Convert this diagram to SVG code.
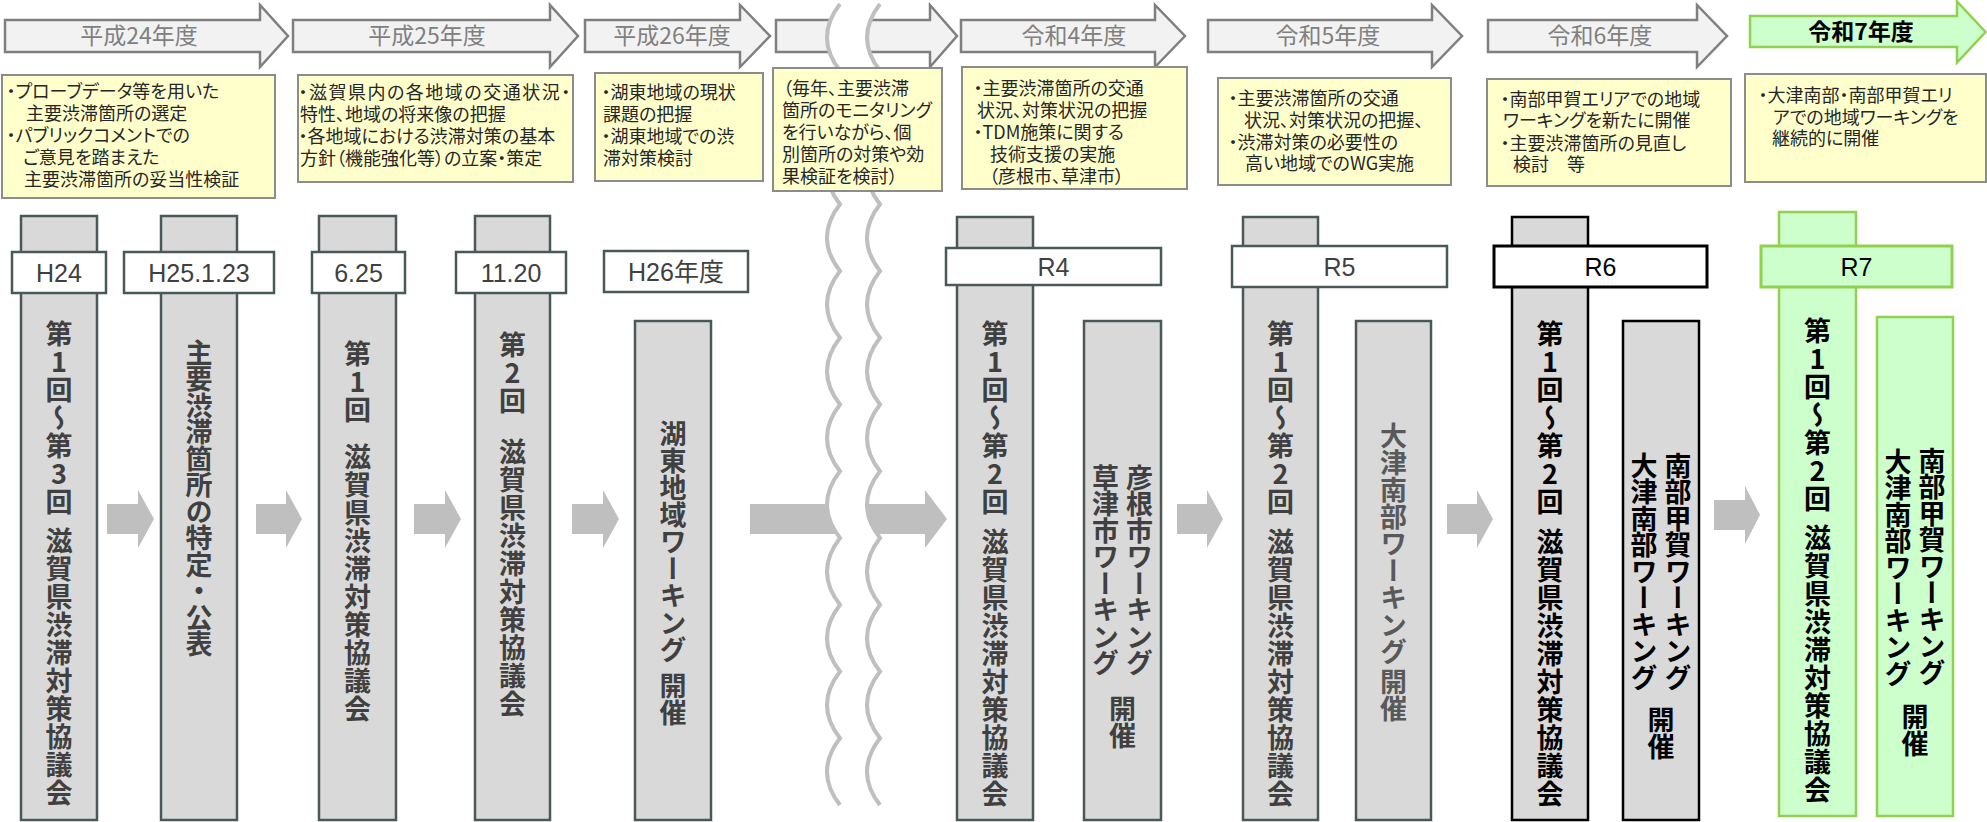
<svg xmlns="http://www.w3.org/2000/svg" width="1987" height="822" viewBox="0 0 1987 822">
<style>
.hdr{fill:#F2F2F2;stroke:#7F7F7F;stroke-width:2.5}
.hdrG{fill:#CCFFCC;stroke:#92D050;stroke-width:2.5}
.ht{font-family:"Noto Sans CJK JP",sans-serif;font-size:23px;fill:#808080;text-anchor:middle}
.htG{font-family:"Noto Sans CJK JP",sans-serif;font-size:23px;font-weight:bold;fill:#000;text-anchor:middle}
.box{fill:#FFFFCC;stroke:#8C8C8C;stroke-width:2}
.bt{font-family:"Noto Sans CJK JP",sans-serif;font-size:18px;fill:#262626;font-feature-settings:"palt"}
.pil{fill:#D9D9D9;stroke:#4A5858;stroke-width:2.5}
.lab{fill:#FFFFFF;stroke:#4A5858;stroke-width:2.5}
.pilK{fill:#D9D9D9;stroke:#000;stroke-width:2.5}
.labK{fill:#FFFFFF;stroke:#000;stroke-width:3}
.pilG{fill:#CCFFCC;stroke:#92D050;stroke-width:2.5}
.labG{fill:#CCFFCC;stroke:#92D050;stroke-width:3}
.lt{font-family:"Liberation Sans","Noto Sans CJK JP",sans-serif;font-size:25px;fill:#404040;text-anchor:middle}
.ltK{font-family:"Liberation Sans",sans-serif;font-size:25px;fill:#000;text-anchor:middle}
.vt{font-family:"Noto Sans CJK JP",sans-serif;font-size:27px;font-weight:bold;fill:#404040;writing-mode:vertical-rl;text-orientation:upright;letter-spacing:1px}
.vtK{fill:#000}
.vtL{fill:#595959}
.n5{letter-spacing:-0.5px}
.n0{letter-spacing:0px}
.conn{fill:#BFBFBF}
.wave{fill:none;stroke:#BFBFBF;stroke-width:4}
</style>

<!-- header arrows -->
<g id="hdr-h24"><polygon class="hdr" points="5,20 260,20 260,5 288,36 260,67 260,52 5,52"/><text class="ht" x="139" y="44">平成24年度</text></g>
<g id="hdr-h25"><polygon class="hdr" points="293,20 550,20 550,5 578,36 550,67 550,52 293,52"/><text class="ht" x="427" y="44">平成25年度</text></g>
<g id="hdr-h26"><polygon class="hdr" points="585,20 740,20 740,5 770,36 740,67 740,52 585,52"/><text class="ht" x="672" y="44">平成26年度</text></g>
<g id="hdr-gap"><polygon class="hdr" points="776,20 930,20 930,5 957,36 930,67 930,52 776,52"/></g>
<g id="hdr-r4"><polygon class="hdr" points="961,20 1155,20 1155,5 1185,36 1155,67 1155,52 961,52"/><text class="ht" x="1074" y="44">令和4年度</text></g>
<g id="hdr-r5"><polygon class="hdr" points="1208,20 1432,20 1432,5 1462,36 1432,67 1432,52 1208,52"/><text class="ht" x="1328" y="44">令和5年度</text></g>
<g id="hdr-r6"><polygon class="hdr" points="1488,20 1697,20 1697,5 1727,36 1697,67 1697,52 1488,52"/><text class="ht" x="1600" y="44">令和6年度</text></g>
<g id="hdr-r7"><polygon class="hdrG" points="1750,16 1957,16 1957,1.5 1985.5,32 1957,62.5 1957,47 1750,47"/><text class="htG" x="1861" y="40">令和7年度</text></g>

<!-- description boxes -->
<g id="box-h24"><rect class="box" x="2" y="75" width="273" height="123"/>
<text class="bt"><tspan x="6.5" y="97.5">・プローブデータ等を用いた</tspan><tspan x="26" y="119.5">主要渋滞箇所の選定</tspan><tspan x="6.5" y="141.5">・パブリックコメントでの</tspan><tspan x="23" y="163.5">ご意見を踏まえた</tspan><tspan x="24" y="185.5">主要渋滞箇所の妥当性検証</tspan></text></g>
<g id="box-h25"><rect class="box" x="298" y="75" width="275" height="107"/>
<text class="bt"><tspan x="298.5" y="98.5" letter-spacing="1.5">・滋賀県内の各地域の交通状況・</tspan><tspan x="300" y="120.5">特性、地域の将来像の把握</tspan><tspan x="298.5" y="142.5">・各地域における渋滞対策の基本</tspan><tspan x="300" y="164.5">方針（機能強化等）の立案・策定</tspan></text></g>
<g id="box-h26"><rect class="box" x="595" y="73" width="168" height="108"/>
<text class="bt"><tspan x="601.5" y="99">・湖東地域の現状</tspan><tspan x="603" y="121">課題の把握</tspan><tspan x="601.5" y="143">・湖東地域での渋</tspan><tspan x="603" y="165">滞対策検討</tspan></text></g>
<g id="box-r4"><rect class="box" x="962" y="67" width="225" height="122"/>
<text class="bt"><tspan x="973.5" y="94.5">・主要渋滞箇所の交通</tspan><tspan x="977" y="116.5">状況、対策状況の把握</tspan><tspan x="973.5" y="138.5">・TDM施策に関する</tspan><tspan x="990" y="160.5">技術支援の実施</tspan><tspan x="989" y="182.5">（彦根市、草津市）</tspan></text></g>
<g id="box-r5"><rect class="box" x="1218" y="78" width="233" height="107"/>
<text class="bt"><tspan x="1228.5" y="104.5">・主要渋滞箇所の交通</tspan><tspan x="1244" y="126.5">状況、対策状況の把握、</tspan><tspan x="1228.5" y="148.5">・渋滞対策の必要性の</tspan><tspan x="1245" y="169.5">高い地域でのWG実施</tspan></text></g>
<g id="box-r6"><rect class="box" x="1487" y="79" width="244" height="107"/>
<text class="bt"><tspan x="1500.5" y="105.5">・南部甲賀エリアでの地域</tspan><tspan x="1503" y="127">ワーキングを新たに開催</tspan><tspan x="1500.5" y="149.5">・主要渋滞箇所の見直し</tspan><tspan x="1513" y="171">検討　等</tspan></text></g>
<g id="box-r7"><rect class="box" x="1745" y="74" width="241" height="108"/>
<text class="bt"><tspan x="1758.5" y="101.5">・大津南部・南部甲賀エリ</tspan><tspan x="1773" y="123.5">アでの地域ワーキングを</tspan><tspan x="1772" y="144.5">継続的に開催</tspan></text></g>

<!-- columns -->
<g id="col-h24">
<rect class="pil" x="21" y="216" width="76" height="604"/>
<rect class="lab" x="12" y="252" width="94" height="41"/>
<text class="lt" x="59" y="281.5">H24</text>
<text class="vt" x="59" y="320">第1回～第3回</text>
<text class="vt" x="59" y="527">滋賀県渋滞対策協議会</text>
</g>
<g id="col-h25">
<rect class="pil" x="161" y="216" width="76" height="604"/>
<rect class="lab" x="124" y="252" width="150" height="41"/>
<text class="lt" x="199" y="281.5">H25.1.23</text>
<text class="vt n5" x="199" y="339">主要渋滞箇所の特定・公表</text>
</g>
<g id="col-625">
<rect class="pil" x="319" y="216" width="77" height="604"/>
<rect class="lab" x="312" y="252" width="93" height="41"/>
<text class="lt" x="358.5" y="281.5">6.25</text>
<text class="vt" x="357.5" y="340">第1回</text>
<text class="vt" x="357.5" y="443">滋賀県渋滞対策協議会</text>
</g>
<g id="col-1120">
<rect class="pil" x="475" y="216" width="75" height="604"/>
<rect class="lab" x="456" y="252" width="110" height="41"/>
<text class="lt" x="511" y="281.5">11.20</text>
<text class="vt" x="512.5" y="331">第2回</text>
<text class="vt" x="512.5" y="438">滋賀県渋滞対策協議会</text>
</g>
<g id="col-h26">
<rect class="lab" x="604" y="251" width="144" height="41"/>
<text class="lt" x="676" y="280.5">H26年度</text>
<rect class="pil" x="635" y="321" width="76" height="499"/>
<text class="vt n0" x="673" y="420">湖東地域ワーキング</text>
<text class="vt n0" x="673" y="672">開催</text>
</g>
<g id="col-r4">
<rect class="pil" x="957" y="217" width="76" height="603"/>
<rect class="lab" x="946" y="248" width="215" height="37"/>
<text class="lt" x="1053.5" y="275.5">R4</text>
<rect class="pil" x="1084" y="321" width="77" height="499"/>
<text class="vt" x="995" y="320">第1回～第2回</text>
<text class="vt" x="995" y="528">滋賀県渋滞対策協議会</text>
<text class="vt n5" x="1139.5" y="464">彦根市ワーキング</text>
<text class="vt n5" x="1105.5" y="464">草津市ワーキング</text>
<text class="vt n0" x="1122.5" y="695">開催</text>
</g>
<g id="col-r5">
<rect class="pil" x="1243" y="217" width="75" height="603"/>
<rect class="lab" x="1232" y="246" width="215" height="41"/>
<text class="lt" x="1339.5" y="275.5">R5</text>
<rect class="pil" x="1356" y="321" width="75" height="499"/>
<text class="vt" x="1280.5" y="320">第1回～第2回</text>
<text class="vt" x="1280.5" y="528">滋賀県渋滞対策協議会</text>
<text class="vt vtL n0" x="1393.5" y="422">大津南部ワーキング</text>
<text class="vt vtL n0" x="1393.5" y="668">開催</text>
</g>
<g id="col-r6">
<rect class="pilK" x="1512" y="217" width="76" height="603"/>
<rect class="labK" x="1494" y="246" width="213" height="41"/>
<text class="ltK" x="1600.5" y="275.5">R6</text>
<rect class="pilK" x="1623" y="321" width="76" height="499"/>
<text class="vt vtK" x="1550" y="320">第1回～第2回</text>
<text class="vt vtK" x="1550" y="528">滋賀県渋滞対策協議会</text>
<text class="vt vtK n5" x="1678" y="452">南部甲賀ワーキング</text>
<text class="vt vtK n5" x="1644" y="452">大津南部ワーキング</text>
<text class="vt vtK n0" x="1661" y="706">開催</text>
</g>
<g id="col-r7">
<rect class="pilG" x="1779" y="212" width="77" height="604"/>
<rect class="labG" x="1761" y="246" width="191" height="41"/>
<text class="ltK" x="1856.5" y="275.5">R7</text>
<rect class="pilG" x="1877" y="317" width="76" height="499"/>
<text class="vt vtK" x="1817.5" y="317">第1回～第2回</text>
<text class="vt vtK" x="1817.5" y="524">滋賀県渋滞対策協議会</text>
<text class="vt vtK n5" x="1932" y="447">南部甲賀ワーキング</text>
<text class="vt vtK n5" x="1898" y="448">大津南部ワーキング</text>
<text class="vt vtK n0" x="1915" y="703">開催</text>
</g>

<!-- connectors -->
<g id="connectors">
<polygon class="conn" points="107,504 138,504 138,490 154,519 138,548 138,534 107,534"/>
<polygon class="conn" points="256,504 286,504 286,490 302,519 286,548 286,534 256,534"/>
<polygon class="conn" points="414,504 445,504 445,490 461,519 445,548 445,534 414,534"/>
<polygon class="conn" points="572,504 603,504 603,490 619,519 603,548 603,534 572,534"/>
<polygon class="conn" points="750,504 925,504 925,490 947,519 925,548 925,534 750,534"/>
<polygon class="conn" points="1177,504 1207,504 1207,490 1223,519 1207,548 1207,534 1177,534"/>
<polygon class="conn" points="1447,504 1477,504 1477,490 1493,519 1477,548 1477,534 1447,534"/>
<polygon class="conn" points="1714,500 1745,500 1745,486 1760,515 1745,544 1745,530 1714,530"/>
</g>

<!-- break mark -->
<g id="break">
<path fill="#FFFFFF" d="M840,4 q-26,33.375 0,66.75 q-26,33.375 0,66.75 q-26,33.375 0,66.75 q-26,33.375 0,66.75 q-26,33.375 0,66.75 q-26,33.375 0,66.75 q-26,33.375 0,66.75 q-26,33.375 0,66.75 q-26,33.375 0,66.75 q-26,33.375 0,66.75 q-26,33.375 0,66.75 q-26,33.375 0,66.75 L880,805 q-26,-33.375 0,-66.75 q-26,-33.375 0,-66.75 q-26,-33.375 0,-66.75 q-26,-33.375 0,-66.75 q-26,-33.375 0,-66.75 q-26,-33.375 0,-66.75 q-26,-33.375 0,-66.75 q-26,-33.375 0,-66.75 q-26,-33.375 0,-66.75 q-26,-33.375 0,-66.75 q-26,-33.375 0,-66.75 q-26,-33.375 0,-66.75 Z"/>
<path class="wave" d="M840,4 q-26,33.375 0,66.75 q-26,33.375 0,66.75 q-26,33.375 0,66.75 q-26,33.375 0,66.75 q-26,33.375 0,66.75 q-26,33.375 0,66.75 q-26,33.375 0,66.75 q-26,33.375 0,66.75 q-26,33.375 0,66.75 q-26,33.375 0,66.75 q-26,33.375 0,66.75 q-26,33.375 0,66.75"/>
<path class="wave" d="M880,4 q-26,33.375 0,66.75 q-26,33.375 0,66.75 q-26,33.375 0,66.75 q-26,33.375 0,66.75 q-26,33.375 0,66.75 q-26,33.375 0,66.75 q-26,33.375 0,66.75 q-26,33.375 0,66.75 q-26,33.375 0,66.75 q-26,33.375 0,66.75 q-26,33.375 0,66.75 q-26,33.375 0,66.75"/>
</g>

<g id="box-gap"><rect class="box" x="773" y="68" width="169" height="123"/>
<text class="bt"><tspan x="783" y="94.5">（毎年、主要渋滞</tspan><tspan x="782" y="116.5">箇所のモニタリング</tspan><tspan x="782" y="138.5">を行いながら、個</tspan><tspan x="782" y="161">別箇所の対策や効</tspan><tspan x="782" y="183">果検証を検討）</tspan></text></g>
</svg>
